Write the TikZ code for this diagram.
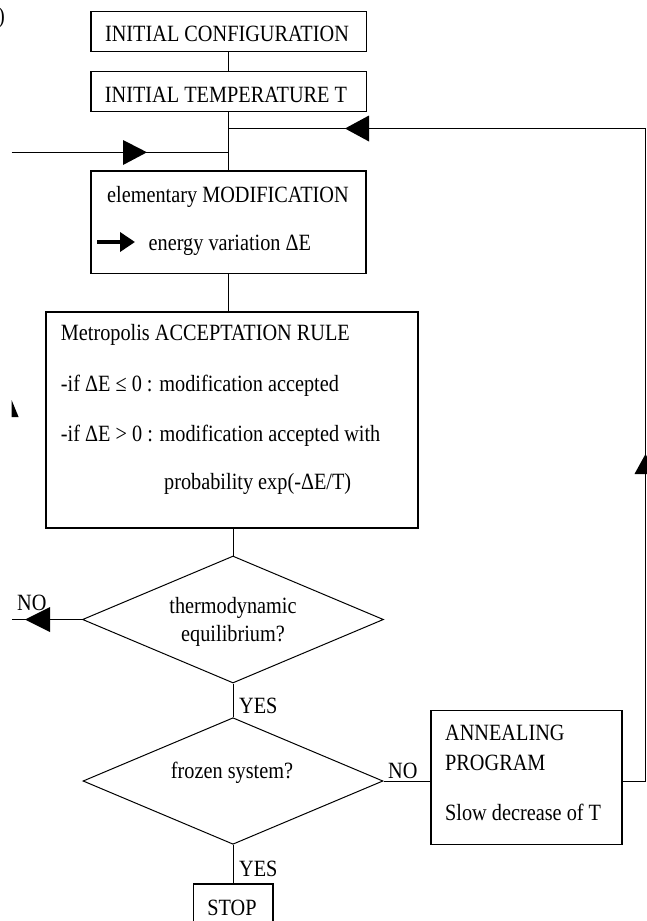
\documentclass[tikz,border=0pt]{standalone}
\usepackage{fontspec}
\setmainfont{Liberation Serif}[FakeStretch=0.87]
\usetikzlibrary{shapes.geometric,arrows.meta}
\tikzset{
  box/.style={draw, line width=1.2pt, rectangle, inner sep=0pt},
  dia/.style={draw, line width=1pt, diamond, inner sep=0pt},
  conn/.style={line width=1pt},
  txt/.style={inner sep=0pt, anchor=base west},
  ctxt/.style={inner sep=0pt, anchor=base}
}
\begin{document}
\begin{tikzpicture}[x=1pt,y=-1pt,font=\fontsize{23.3}{28}\selectfont]
\useasboundingbox (0,0) rectangle (647,921);
\clip (0,0) rectangle (647,921);
% clipped remains at the left edge
\node[inner sep=0pt, anchor=base east] (paren) at (5,23) {)};
\fill (11.6,400) -- (18.6,417) -- (11.6,417) -- cycle;
% boxes
\node[box, minimum width=275.5pt, minimum height=40pt] (b1) at (228.75,31.7) {};
\node[ctxt] (t1) at (227,41) {INITIAL CONFIGURATION};
\node[box, minimum width=275.5pt, minimum height=40pt] (b2) at (228.75,91.7) {};
\node[ctxt] (t2) at (226,102) {INITIAL TEMPERATURE T};
\node[box, minimum width=275pt, minimum height=102.5pt] (b3) at (228.5,222.2) {};
\node[txt] (t3a) at (107,202) {elementary MODIFICATION};
\node[txt] (t3b) at (148.5,250) {energy variation ΔE};
\draw[line width=4.5pt, -{Triangle[length=15pt,width=19pt]}] (97,242) -- (135,242);
\node[box, minimum width=372pt, minimum height=216pt] (b4) at (232,420) {};
\node[txt] (t4a) at (60.7,340) {Metropolis ACCEPTATION RULE};
\node[txt] (t4b) at (60.7,391) {-if ΔE ≤ 0 : modification accepted};
\node[txt] (t4c) at (60.7,441) {-if ΔE > 0 : modification accepted with};
\node[txt] (t4d) at (164,489) {probability exp(-ΔE/T)};
\node[dia, minimum width=301pt, minimum height=127pt] (d1) at (233,619.5) {};
\node[ctxt] (t5a) at (233,613) {thermodynamic};
\node[ctxt] (t5b) at (233,641) {equilibrium?};
\node[dia, minimum width=300pt, minimum height=126.6pt] (d2) at (233,781) {};
\node[ctxt] (t6) at (232,778) {frozen system?};
\node[box, minimum width=191pt, minimum height=133.6pt] (b5) at (526.5,777.5) {};
\node[txt] (t7a) at (445,740) {ANNEALING};
\node[txt] (t7b) at (445,770) {PROGRAM};
\node[txt] (t7c) at (445,820) {Slow decrease of T};
\node[box, minimum width=79.4pt, minimum height=46pt] (stop) at (233.3,907) {};
\node[ctxt] (tstop) at (232,915) {STOP};
% coordinates
\coordinate (j1) at (228.5,128.5);
\coordinate (j2) at (228.5,152.3);
\coordinate (rin) at (645.5,128.5);
\coordinate (rout) at (645.5,781);
\coordinate (lin) at (11.7,152.3);
\coordinate (lno) at (12,619.5);
% connectors
\draw[conn] (b1.south -| j1) -- (b2.north -| j1);
\draw[conn] (b2.south -| j1) -- (b3.north -| j1);
\draw[conn] (b3.south -| j1) -- (b4.north -| j1);
\draw[conn] (b4.south -| d1.north) -- (d1.north);
\draw[conn] (d1.south) -- (d2.north);
\draw[conn] (d2.south) -- (stop.north -| d2.south);
\draw[conn] (d2.east) -- (b5.west |- d2.east);
\draw[conn] (b5.east |- rout) -- (rout) -- (rin) -- (j1);
\draw[conn] (lin) -- (j2);
\draw[conn] (d1.west) -- (lno);
% arrowheads
\fill (147,152.3) -- (123,140) -- (123,165) -- cycle;
\fill (345,128.5) -- (369,115.5) -- (369,141.5) -- cycle;
\fill (25,619.5) -- (50,607) -- (50,632) -- cycle;
\fill (645.5,454) -- (634.5,474) -- (656.5,474) -- cycle;
% labels
\node[txt] (no1) at (17,610) {NO};
\node[txt] (no2) at (388,778) {NO};
\node[txt] (yes1) at (239,713) {YES};
\node[txt] (yes2) at (239,876) {YES};
\end{tikzpicture}
\end{document}
